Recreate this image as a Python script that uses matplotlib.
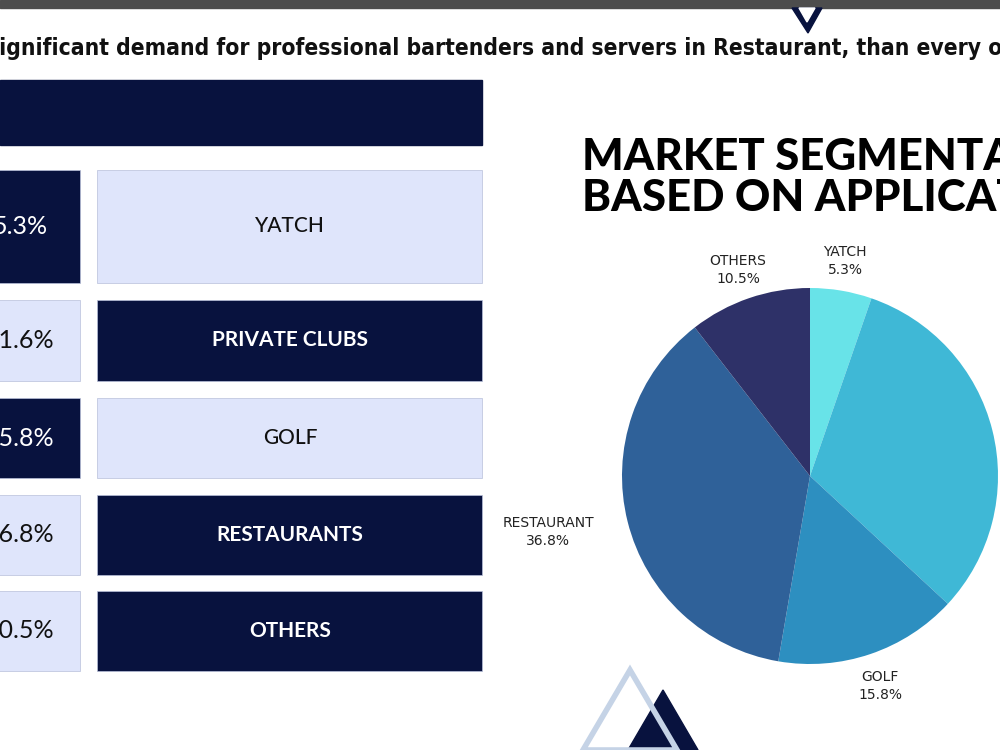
import matplotlib.pyplot as plt
from matplotlib.patches import Rectangle, Polygon

# data
segments = ['YATCH', 'PRIVATE CLUBS', 'GOLF', 'RESTAURANTS', 'OTHERS']
shares = [5.3, 31.6, 15.8, 36.8, 10.5]
pie_labels = ['YATCH', '', 'GOLF', 'RESTAURANT', 'OTHERS']
pie_colors = ['#68e3e8', '#3fb8d6', '#2d8fc0', '#2f6199', '#2e3168']
subtitle = 'significant demand for professional bartenders and servers in Restaurant, than every other'

NAVY = '#08123e'
LIGHT = '#dfe5fb'

fig = plt.figure(figsize=(10, 7.5), dpi=100)
fig.patch.set_facecolor('white')

# full-figure canvas in pixel coordinates
ax = fig.add_axes([0, 0, 1, 1])
ax.set_xlim(0, 1000)
ax.set_ylim(750, 0)
ax.axis('off')

# top strip
ax.add_patch(Rectangle((0, 0), 1000, 8, color='#4d4d4d'))
ax.add_patch(Polygon([[792, 8], [822, 8], [808, 33]], closed=True, color=NAVY))
ax.add_patch(Polygon([[799, 8], [815, 8], [807, 22]], closed=True, color='white'))

ax.text(-13, 48, subtitle, fontsize=16.4, fontweight='semibold', color='#111111',
        family='DejaVu Sans', fontstretch='condensed', va='center', ha='left')

# header bar
ax.add_patch(Rectangle((0, 80), 482, 65, color=NAVY))

# rows of boxes
rows_y = [(170, 283), (300, 381), (398, 478), (495, 575), (591, 671)]
left_dark = [True, False, True, False, False]
right_dark = [False, True, False, True, True]
for (y0, y1), name, val, ld, rd in zip(rows_y, segments, shares, left_dark, right_dark):
    ax.add_patch(Rectangle((-90, y0), 170, y1 - y0, facecolor=NAVY if ld else LIGHT,
                           edgecolor='#b8c0da', linewidth=0.5))
    ax.add_patch(Rectangle((97, y0), 385, y1 - y0, facecolor=NAVY if rd else LIGHT,
                           edgecolor='#b8c0da', linewidth=0.5))
    ym = (y0 + y1) / 2
    ax.text(20, ym, f'{val}%', fontsize=18, color='white' if ld else '#111111',
            ha='center', va='center', family='Lato')
    ax.text(290, ym, name, fontsize=15, color='white' if rd else '#111111',
            ha='center', va='center', family='Lato',
            fontweight='bold' if rd else 'medium')

# title
ax.text(582, 157, 'MARKET SEGMENTATION', fontsize=31.5, fontweight='black',
        family='Lato', color='black', va='center', ha='left')
ax.text(582, 198, 'BASED ON APPLICATION', fontsize=31.5, fontweight='black',
        family='Lato', color='black', va='center', ha='left')

# decorative triangles at bottom
ax.add_patch(Polygon([[663, 690], [628, 750], [698, 750]], closed=True, color=NAVY))
ax.add_patch(Polygon([[630, 670], [583, 750], [677, 750]], closed=True, fill=False,
                     edgecolor='#c5d3e6', linewidth=4, joinstyle='miter'))

# pie chart
cx, cy, r = 810, 476, 188
pax = fig.add_axes([(cx - r) / 1000, (750 - cy - r) / 750, 2 * r / 1000, 2 * r / 750])
pax.pie(shares, colors=pie_colors, startangle=90, counterclock=False,
        wedgeprops=dict(linewidth=0))
pax.set_xlim(-1, 1)
pax.set_ylim(-1, 1)
pax.set_aspect('equal')
pax.axis('off')

# pie labels
label_pos = [(845, 261), None, (880, 686), (548, 532), (738, 270)]
for lab, val, pos in zip(pie_labels, shares, label_pos):
    if pos is None:
        continue
    ax.text(pos[0], pos[1], f'{lab}\n{val}%', fontsize=10, color='#222222',
            ha='center', va='center', linespacing=1.3, family='DejaVu Sans')

fig.savefig('out.png', dpi=100)
